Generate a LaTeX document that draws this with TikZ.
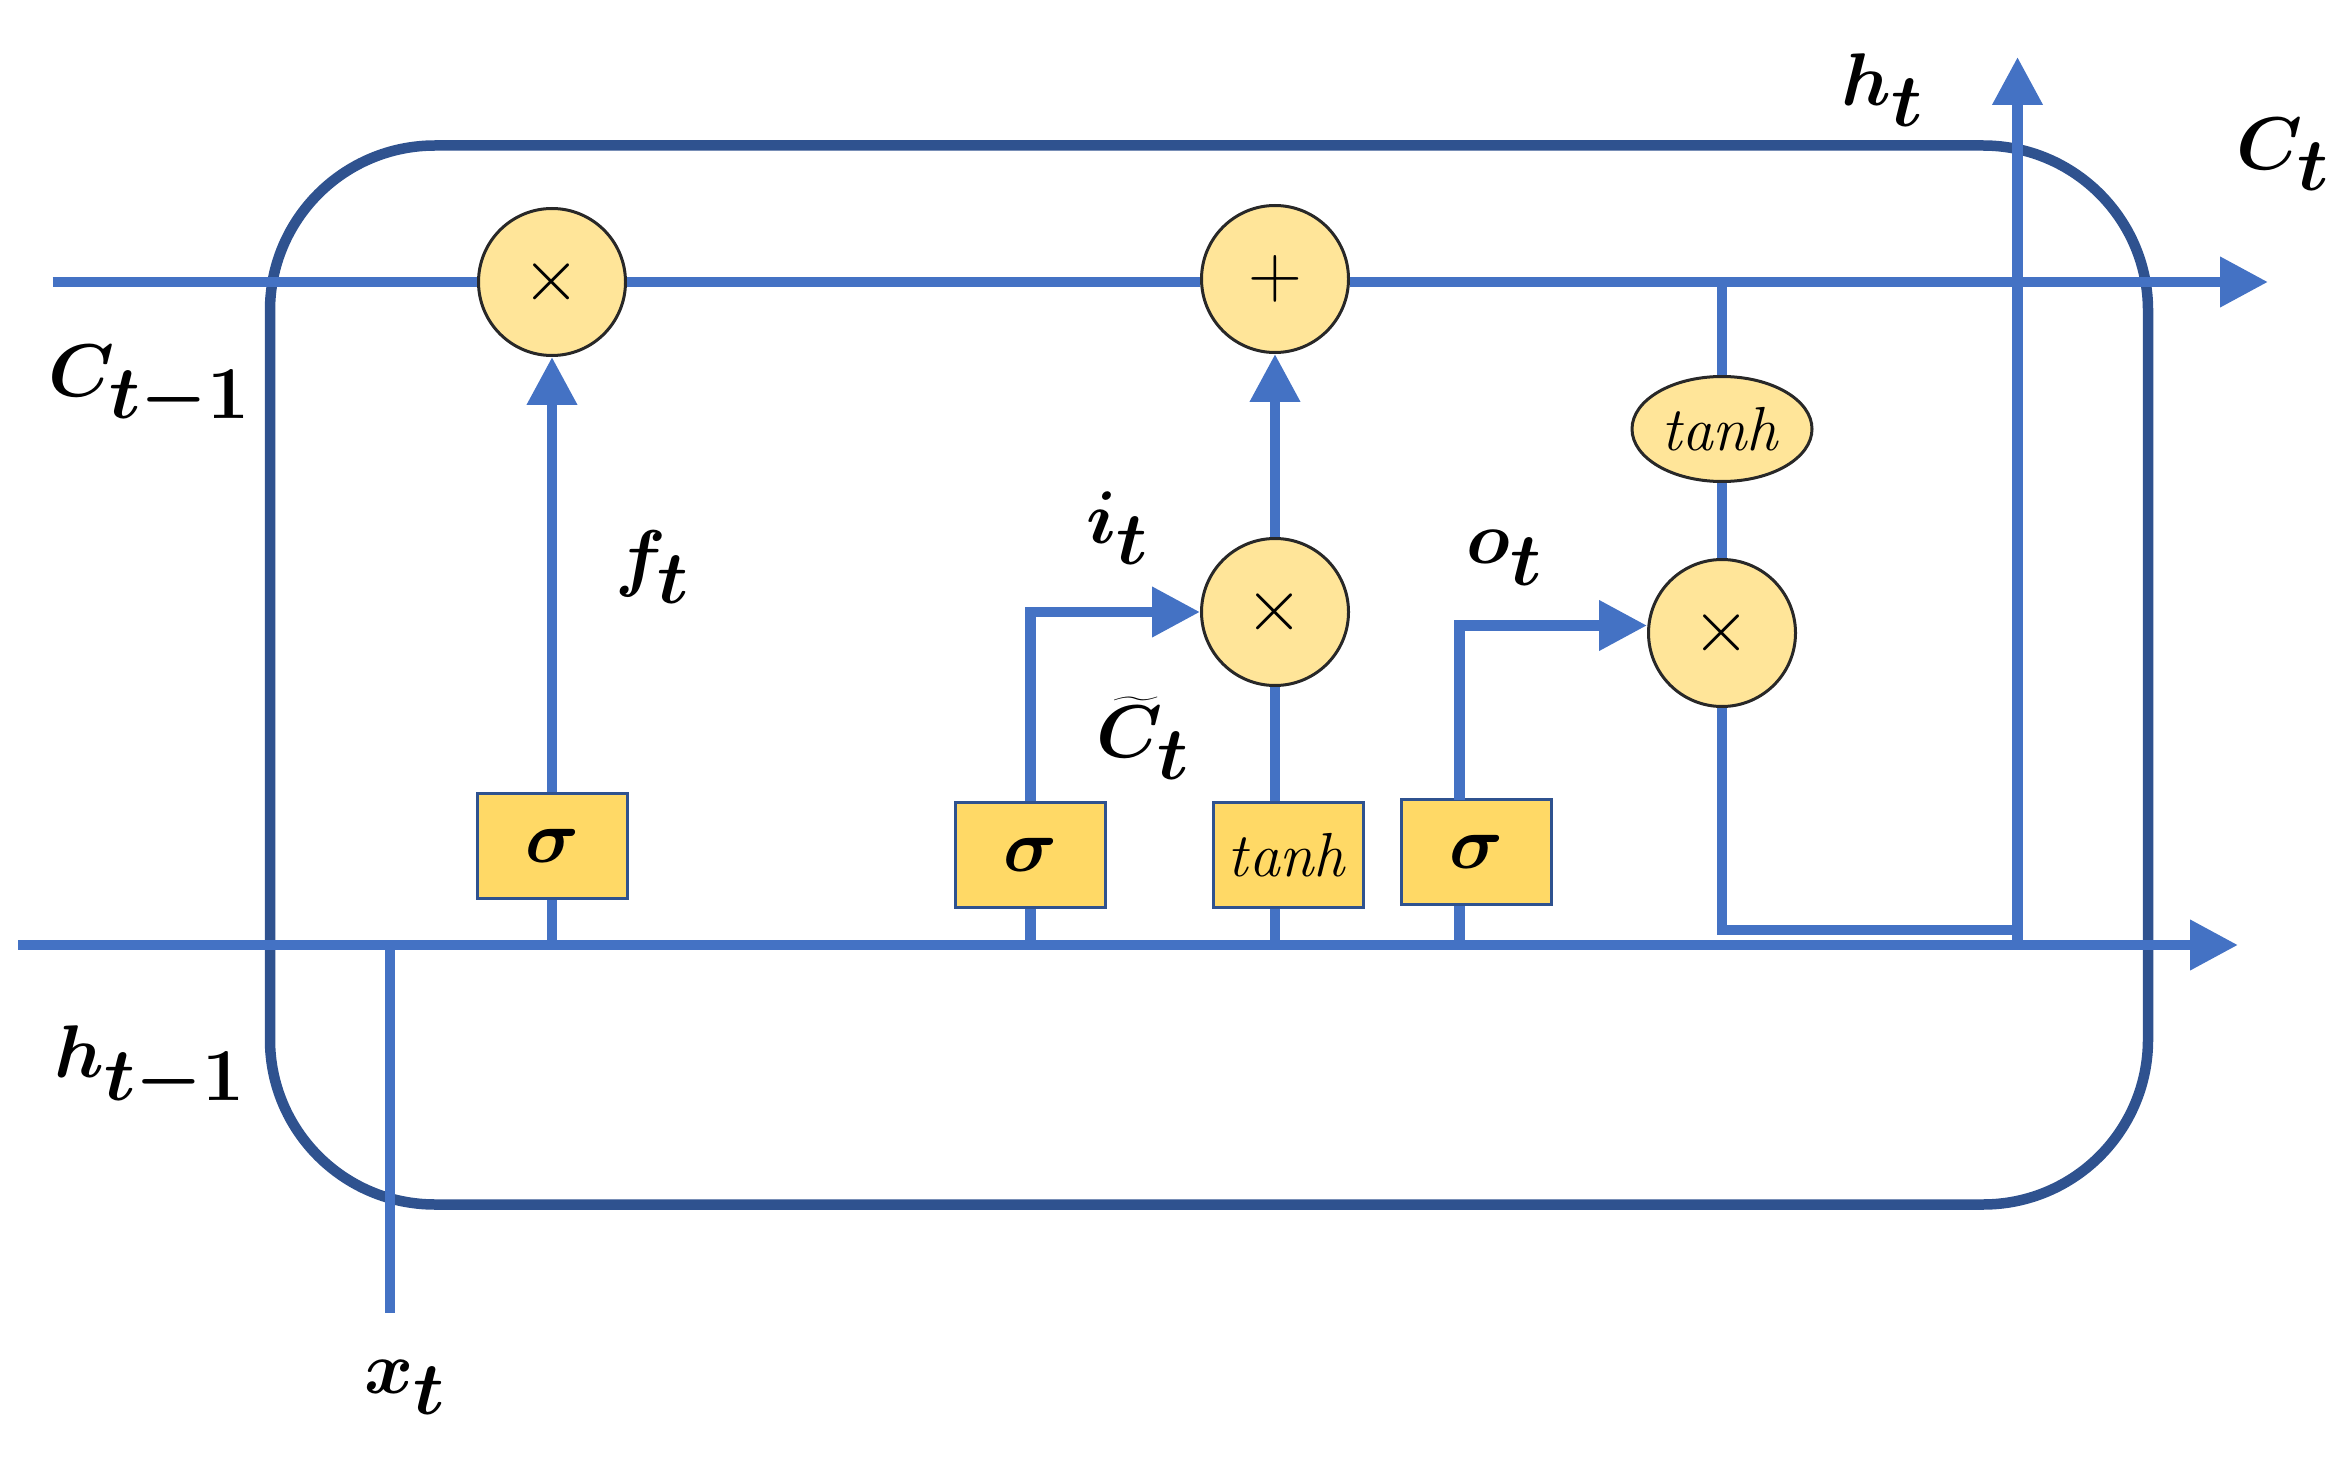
\documentclass[tikz,border=0pt]{standalone}
\usepackage{bm}
\usetikzlibrary{arrows.meta,shapes.geometric}
\definecolor{flow}{RGB}{68,114,196}
\definecolor{frame}{RGB}{47,82,143}
\definecolor{opfill}{RGB}{255,229,153}
\definecolor{opline}{RGB}{40,40,40}
\definecolor{gatefill}{RGB}{255,217,102}
\tikzset{every picture/.style={line width=3.5pt}}
\tikzset{
  op/.style={circle,draw=opline,line width=1pt,fill=opfill,minimum size=49pt,inner sep=0pt,font=\fontsize{40}{40}\selectfont},
  gate/.style={rectangle,draw=frame,line width=1pt,fill=gatefill,minimum width=50pt,minimum height=35pt,inner sep=0pt,font=\fontsize{28}{28}\selectfont},
  flowline/.style={draw=flow,line width=3.5pt},
  flowarrow/.style={flowline,-{Triangle[length=16pt,width=16pt]}},
  lbl/.style={inner sep=0.75pt,font=\fontsize{34}{34}\selectfont}
}
\begin{document}
\begin{tikzpicture}[x=0.5pt,y=0.5pt,yscale=-1,xscale=1]
\useasboundingbox (0,0) rectangle (1568,973);

%Shape: Rounded Rect
\draw [frame,line width=3.5pt,rounded corners=55pt] (180,97) rectangle (1432,803);

%Operators
\node [op] (fx) at (368,188) {$\times$};
\node [op] (add) at (850,186) {\fontsize{30}{30}\selectfont$+$};
\node [op] (ix) at (850,408) {$\times$};
\node [op] (ox) at (1148,422) {$\times$};
\node [ellipse,draw=opline,line width=1pt,fill=opfill,minimum width=60pt,minimum height=35pt,inner sep=0pt] (ct) at (1148,286) {\fontsize{20}{20}\selectfont$\mathit{tanh}$};

%Gates
\node [gate] (fs) at (368,564) {$\bm{\sigma}$};
\node [gate] (is) at (687,570) {$\bm{\sigma}$};
\node [gate] (gt) at (859,570) {\fontsize{20}{20}\selectfont$\mathit{tanh}$};
\node [gate] (os) at (984,568) {$\bm{\sigma}$};

%Coordinates
\coordinate (cin) at (35,188);
\coordinate (cout) at (1512,188);
\coordinate (hin) at (12,630);
\coordinate (hout) at (1492,630);
\coordinate (xin) at (260,875);
\coordinate (xjoin) at (260,630);
\coordinate (cdown) at (1148,188);
\coordinate (hcorner) at (1148,620);
\coordinate (hup) at (1345,620);
\coordinate (hbase) at (1345,630);
\coordinate (htop) at (1345,38);
\coordinate (obase) at (973,630);
\coordinate (otop) at (973,533);
\coordinate (obend) at (973,417);

%Cell state
\draw [flowline] (cin) -- (fx.west);
\draw [flowline] (fx.east) -- (add.west |- fx);
\draw [flowarrow] (add.east |- cin) -- (cout);
%Hidden state
\draw [flowarrow] (hin) -- (hout);
\draw [flowline] (xin) -- (xjoin);
%Forget gate
\draw [flowline] (fs.south) -- (fs.south |- hin);
\draw [flowarrow] (fs) -- (fx);
%Input gate
\draw [flowline] (is.south) -- (is.south |- hin);
\draw [flowarrow] (is.north) -- (is.north |- ix) -- (ix);
\draw [flowline] (gt.south -| ix) -- (ix |- hin);
\draw [flowline] (gt.north -| ix) -- (ix);
\draw [flowarrow] (ix) -- (add);
%Output gate
\draw [flowline] (otop |- os.south) -- (obase);
\draw [flowarrow] (otop) -- (obend) -- (ox.west |- obend);
\draw [flowline] (cdown) -- (ct);
\draw [flowline] (ct) -- (ox);
\draw [flowline] (ox) -- (hcorner) -- (hup);
\draw [flowarrow] (hbase) -- (htop);

% Text Node
\node [lbl] (lc0) at (100,258) {$\bm{C_{t-1}}$};
\node [lbl] (lh0) at (100,712) {$\bm{h_{t-1}}$};
\node [lbl] (lx) at (270,925) {$\bm{x_t}$};
\node [lbl] (lf) at (435,378) {$\bm{f_t}$};
\node [lbl] (li) at (745,352) {$\bm{i_t}$};
\node [lbl] (lg) at (762,492) {$\bm{\widetilde{C}_t}$};
\node [lbl] (lo) at (1003,372) {$\bm{o_t}$};
\node [lbl] (lh) at (1255,60) {$\bm{h_t}$};
\node [lbl] (lc) at (1522,103) {$\bm{C_t}$};

\end{tikzpicture}
\end{document}
